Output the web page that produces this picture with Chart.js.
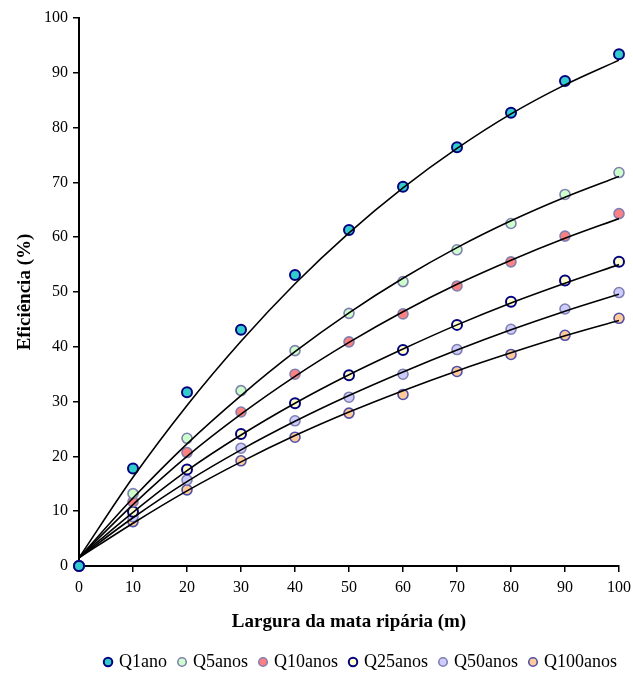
<!DOCTYPE html>
<html lang="pt">
  <head>
    <meta charset="UTF-8" />
    <script src="https://cdn.jsdelivr.net/npm/chart.js@4/dist/chart.umd.min.js"></script>
    <title>Eficiencia da mata riparia</title>
    <style>
      body { margin: 0; background: #fff; }
    </style>
  </head>
  <body>
    <canvas id="chart" width="633" height="673"></canvas>
    <script>
      // largura da mata (m)
      const larguras = [0, 10, 20, 30, 40, 50, 60, 70, 80, 90, 100];
      const seriesNames = ["Q1ano", "Q5anos", "Q10anos", "Q25anos", "Q50anos", "Q100anos"];

      // valores observados (%)
      const q1ano = [0, 17.8, 31.7, 43.1, 53.1, 61.3, 69.2, 76.4, 82.7, 88.5, 93.4];
      const q5anos = [0, 13.2, 23.3, 32.0, 39.3, 46.1, 51.9, 57.7, 62.5, 67.8, 71.8];
      const q10anos = [0, 11.7, 20.7, 28.1, 35.0, 40.9, 46.0, 51.1, 55.5, 60.2, 64.3];
      const q25anos = [0, 9.9, 17.6, 24.1, 29.7, 34.8, 39.4, 44.0, 48.2, 52.1, 55.5];
      const q50anos = [0, 9.0, 15.7, 21.5, 26.5, 30.8, 35.0, 39.5, 43.2, 46.9, 49.9];
      const q100anos = [0, 8.1, 13.9, 19.2, 23.5, 27.9, 31.3, 35.5, 38.6, 42.1, 45.2];

      // curvas ajustadas
      const fitQ1 = [1.5, 16.2, 29.3, 41.0, 51.5, 60.8, 69.0, 76.2, 82.5, 87.8, 92.3];
      const fitQ5 = [1.5, 12.4, 22.3, 31.1, 39.1, 46.2, 52.5, 58.1, 63.0, 67.3, 71.1];
      const fitQ10 = [1.5, 11.2, 20.0, 27.7, 34.6, 40.8, 46.4, 51.4, 55.8, 59.8, 63.4];
      const fitQ25 = [1.5, 9.8, 17.4, 23.9, 29.7, 34.9, 39.6, 44.0, 48.0, 51.6, 55.0];
      const fitQ50 = [1.5, 8.8, 15.4, 21.2, 26.4, 31.1, 35.4, 39.4, 43.1, 46.5, 49.6];
      const fitQ100 = [1.5, 7.8, 13.7, 19.0, 23.8, 28.1, 32.0, 35.6, 38.9, 42.0, 44.8];

      const observed = [q1ano, q5anos, q10anos, q25anos, q50anos, q100anos];
      const fitted = [fitQ1, fitQ5, fitQ10, fitQ25, fitQ50, fitQ100];
      const fills = ["#33CCCC", "#CCFFCC", "#FF8080", "#FFFFCC", "#CCCCFF", "#FFCC99"];
      const borders = ["#000080", "#8080B0", "#8080B0", "#000080", "#8080B0", "#5050A8"];

      const serif = "'Liberation Serif', 'Times New Roman', serif";
      const toXY = (ys) => ys.map((y, i) => ({ x: larguras[i], y: y }));

      const datasets = [];
      observed.forEach((vals, i) => {
        datasets.push({
          type: "scatter",
          label: seriesNames[i],
          data: toXY(vals),
          backgroundColor: fills[i],
          borderColor: borders[i],
          borderWidth: i === 0 || i === 3 ? 2 : 1.6,
          pointRadius: 5,
          pointStyle: "circle",
          clip: false,
          order: 1,
        });
      });
      fitted.forEach((vals, i) => {
        datasets.push({
          type: "line",
          label: "ajuste " + seriesNames[i],
          data: toXY(vals),
          borderColor: "#000",
          borderWidth: 1.6,
          pointRadius: 0,
          cubicInterpolationMode: "monotone",
          fill: false,
          order: 0,
        });
      });

      new Chart(document.getElementById("chart"), {
        data: { datasets: datasets },
        options: {
          responsive: false,
          animation: false,
          layout: { padding: { top: 18, right: 3, left: 0, bottom: -8 } },
          plugins: {
            tooltip: { enabled: false },
            legend: {
              position: "bottom",
              align: "end",
              labels: {
                filter: (item) => item.datasetIndex < 6,
                usePointStyle: true,
                boxWidth: 4,
                boxHeight: 6,
                padding: 13,
                color: "#000",
                font: { family: serif, size: 18 },
              },
            },
          },
          scales: {
            x: {
              type: "linear",
              min: 0,
              max: 100,
              afterFit: (s) => { s.height = 74; s.paddingRight = 14; },
              ticks: { stepSize: 10, color: "#000", padding: 6, font: { family: serif, size: 16 } },
              grid: { drawOnChartArea: false, drawTicks: true, tickLength: 6, color: "#000", lineWidth: 1.5 },
              border: { display: true, color: "#000", width: 2 },
              title: {
                display: true,
                text: "Largura da mata ripária (m)",
                color: "#000",
                font: { family: serif, size: 19, weight: "bold" },
                padding: { top: 4, bottom: 7 },
              },
            },
            y: {
              type: "linear",
              min: 0,
              max: 100,
              afterFit: (s) => { s.width = 79; },
              ticks: { stepSize: 10, color: "#000", padding: 5, font: { family: serif, size: 16 } },
              grid: { drawOnChartArea: false, drawTicks: true, tickLength: 6, color: "#000", lineWidth: 1.5 },
              border: { display: true, color: "#000", width: 2 },
              title: {
                display: true,
                text: "Eficiência (%)",
                color: "#000",
                font: { family: serif, size: 19, weight: "bold" },
                padding: { top: 14, bottom: 0 },
              },
            },
          },
        },
      });
    </script>
  </body>
</html>
